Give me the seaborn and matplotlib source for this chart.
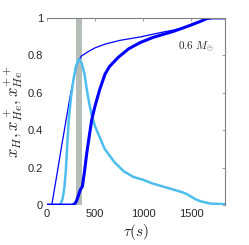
import numpy as np
import pandas as pd
import matplotlib
matplotlib.use('Agg')
import matplotlib.pyplot as plt
import seaborn as sns

sns.set_style('white')
plt.rcParams['font.family'] = ['Liberation Sans', 'DejaVu Sans']
plt.rcParams['mathtext.fontset'] = 'cm'

# x_H (thin blue)
tau_h = [0, 49, 100, 150, 200, 240, 274, 300, 326, 360, 430, 500, 604, 760, 969,
         1177, 1316, 1420, 1490, 1550, 1600, 1663, 1720, 1850]
x_h = [0, 0, 0.155, 0.31, 0.46, 0.58, 0.67, 0.73, 0.772, 0.797, 0.82, 0.84, 0.86,
       0.88, 0.898, 0.921, 0.935, 0.947, 0.96, 0.972, 0.982, 0.996, 1.0, 1.0]

# x_He+ (light blue)
tau_he1 = [0, 120, 140, 160, 180, 195, 210, 225, 250, 275, 300, 330, 360, 390, 413,
           440, 470, 500, 550, 600, 700, 800, 900, 1000, 1100, 1200, 1300, 1400,
           1450, 1500, 1550, 1600, 1700, 1850]
x_he1 = [0, 0, 0.005, 0.03, 0.09, 0.18, 0.32, 0.45, 0.58, 0.67, 0.74, 0.78, 0.76,
         0.70, 0.62, 0.54, 0.47, 0.42, 0.36, 0.30, 0.23, 0.18, 0.15, 0.135, 0.115,
         0.10, 0.085, 0.07, 0.06, 0.045, 0.03, 0.02, 0.008, 0.005]

# x_He++ (thick blue)
tau_he2 = [0, 260, 285, 305, 326, 345, 368, 390, 413, 440, 465, 500, 550, 604, 650,
           743, 850, 969, 1100, 1177, 1316, 1420, 1490, 1550, 1600, 1663, 1720, 1850]
x_he2 = [0, 0, 0.005, 0.02, 0.05, 0.08, 0.10, 0.18, 0.276, 0.37, 0.455, 0.53, 0.62,
         0.70, 0.74, 0.79, 0.835, 0.868, 0.895, 0.907, 0.928, 0.947, 0.96, 0.972,
         0.982, 0.996, 1.0, 1.0]

band = (302, 366)

fig = plt.figure(figsize=(2.49, 2.45), dpi=100)
ax = fig.add_axes([0.189, 0.163, 0.715, 0.764])

ax.axvspan(band[0], band[1], color='#b5bdb7', lw=0, zorder=0)

sns.lineplot(x=tau_h, y=x_h, color='#0000ff', lw=0.9, ax=ax)
sns.lineplot(x=tau_he1, y=x_he1, color='#4dbeee', lw=1.8, ax=ax)
sns.lineplot(x=tau_he2, y=x_he2, color='#0000ff', lw=2.2, ax=ax)

ax.set_xlim(0, 1854)
ax.set_ylim(0, 1)
ax.set_xticks([0, 500, 1000, 1500])
ax.set_xticklabels(['0', '500', '1000', '1500'])
ax.set_yticks([0, 0.2, 0.4, 0.6, 0.8, 1])
ax.set_yticklabels(['0', '0.2', '0.4', '0.6', '0.8', '1'])
ax.tick_params(direction='in', length=2, width=0.5, color='#808080',
               labelsize=8, labelcolor='#262626', top=True, right=True, pad=3)

for s in ['left', 'bottom']:
    ax.spines[s].set_visible(False)
for s in ['top', 'right']:
    ax.spines[s].set_color('#808080')
    ax.spines[s].set_linewidth(0.8)

ax.set_xlabel(r'$\tau(s)$', fontsize=11, labelpad=2)
ax.set_ylabel(r'$x_H, x^+_{He}, x^{++}_{He}$', fontsize=12, labelpad=2)
ax.text(1550, 0.845, r'$0.6\ M_{\odot}$', fontsize=8, ha='center', va='center')

plt.savefig('out.png', dpi=100)
